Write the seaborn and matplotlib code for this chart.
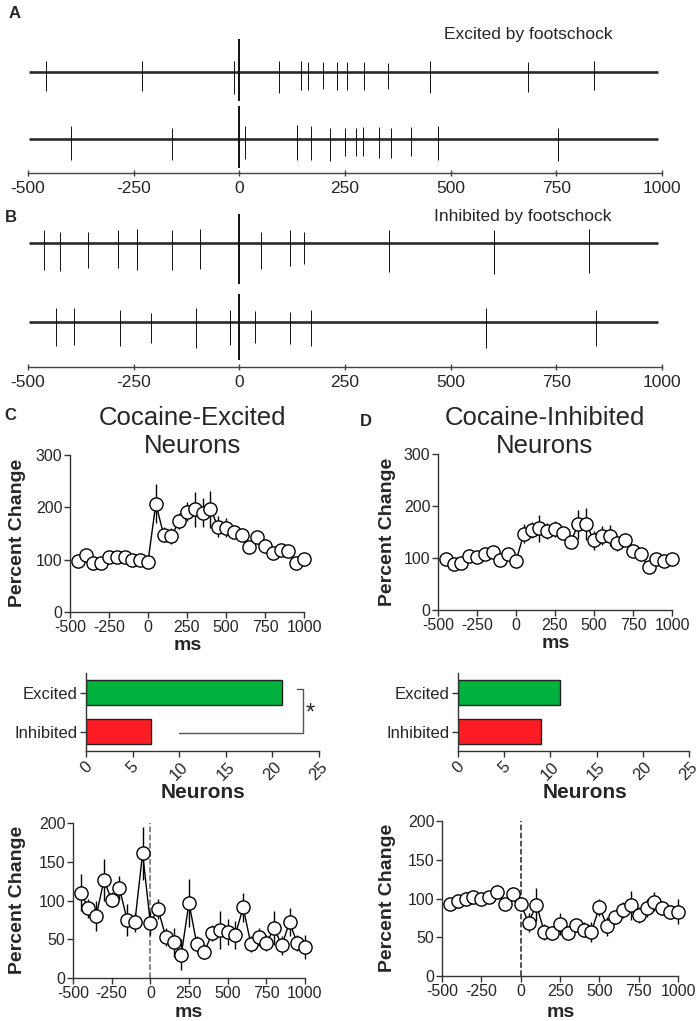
import numpy as np
import matplotlib.pyplot as plt
import seaborn as sns
import pandas as pd

# ---------------- data ----------------
# example single-unit traces: spike times (ms from footshock) and spike heights above / below baseline (a.u.)
a1_times = [-457, -231, -13, 0, 94, 145, 162, 197, 231, 254, 296, 351, 452, 684, 838]
a1_up = [11, 11, 11, 33, 11, 11, 10, 10, 10, 10, 10, 9, 11, 10, 11]
a1_down = [19, 19, 22, 29, 21, 18, 18, 17, 18, 18, 18, 17, 21, 20, 18]

a2_times = [-399, -160, 0, 13, 136, 169, 215, 250, 275, 292, 330, 359, 407, 471, 753]
a2_up = [13, 11, 33, 13, 14, 13, 11, 11, 11, 12, 12, 11, 12, 13, 11]
a2_down = [21, 21, 29, 20, 21, 21, 22, 17, 17, 17, 19, 19, 17, 21, 22]

b1_times = [-462, -425, -358, -288, -242, -160, -92, 0, 51, 121, 153, 353, 602, 827]
b1_up = [13, 11, 11, 13, 14, 13, 14, 29, 11, 13, 11, 13, 13, 14]
b1_down = [27, 28, 25, 25, 27, 27, 26, 41, 26, 23, 21, 29, 31, 30]

b2_times = [-433, -392, -282, -210, -103, -23, 0, 36, 121, 169, 584, 844]
b2_up = [14, 14, 12, 9, 14, 12, 28, 11, 10, 12, 14, 12]
b2_down = [24, 23, 24, 21, 26, 23, 38, 21, 22, 24, 26, 24]

trace_start, trace_end = -497, 990

# peri-stimulus bins (ms)
bins = [-450, -400, -350, -300, -250, -200, -150, -100, -50, 0,
        50, 100, 150, 200, 250, 300, 350, 400, 450, 500,
        550, 600, 650, 700, 750, 800, 850, 900, 950, 1000]

# C top: cocaine-excited neurons, percent change
c_top = [97, 108, 94, 93, 105, 106, 106, 100, 99, 96,
         207, 148, 145, 174, 192, 196, 190, 196, 163, 161,
         153, 148, 124, 143, 126, 112, 118, 116, 93, 101]
c_top_err = [8, 8, 8, 8, 8, 8, 8, 8, 8, 8,
             37, 14, 15, 15, 18, 33, 28, 35, 20, 18,
             10, 10, 10, 12, 10, 10, 10, 10, 10, 10]

# D top: cocaine-inhibited neurons, percent change
d_top = [99, 88, 90, 104, 102, 107, 112, 97, 108, 94,
         147, 154, 157, 152, 156, 149, 131, 165, 165, 134,
         143, 143, 128, 134, 114, 108, 82, 99, 94, 99]
d_top_err = [8, 8, 8, 8, 8, 8, 8, 8, 8, 8,
             18, 15, 26, 15, 15, 12, 10, 28, 31, 18,
             18, 20, 15, 10, 8, 8, 8, 8, 8, 8]

# neuron counts
bar_labels = ["Excited", "Inhibited"]
c_counts = [21, 7]
d_counts = [11, 9]

# C bottom
c_bot = [110, 90, 80, 126, 101, 116, 75, 72, 161, 71,
         89, 53, 46, 30, 97, 44, 34, 58, 62, 59,
         56, 91, 44, 53, 45, 64, 42, 72, 45, 40]
c_bot_err = [24, 12, 19, 27, 10, 15, 21, 12, 34, 15,
             13, 12, 19, 20, 31, 10, 10, 10, 24, 17,
             18, 19, 10, 12, 10, 22, 12, 18, 10, 16]

# D bottom
d_bot = [93, 97, 100, 102, 100, 102, 109, 93, 106, 93,
         69, 92, 57, 56, 67, 56, 66, 60, 57, 89,
         64, 76, 85, 91, 79, 88, 96, 88, 83, 83]
d_bot_err = [8, 9, 9, 9, 8, 8, 9, 8, 9, 9,
             12, 21, 10, 9, 14, 9, 9, 10, 13, 11,
             12, 9, 10, 19, 10, 12, 12, 9, 9, 16]

# ---------------- figure ----------------
sns.set_theme(style="ticks")
plt.rcParams['font.family'] = ['Liberation Sans', 'DejaVu Sans']
plt.rcParams['axes.linewidth'] = 1.0
plt.rcParams['axes.unicode_minus'] = False

W, H = 700, 1021
fig = plt.figure(figsize=(W / 100, H / 100), dpi=100)
AXC = '#333333'


def box(x0, y0, x1, y1):
    return [x0 / W, 1 - y1 / H, (x1 - x0) / W, (y1 - y0) / H]


def ftext(x, y, s, **kw):
    fig.text(x / W, 1 - y / H, s, **kw)


def trace(baseline, times, up, down):
    ax = fig.add_axes(box(28, baseline - 50, 662, baseline + 50))
    ax.hlines(0, trace_start, trace_end, color='#2a2a2a', lw=1.9)
    lw = [1.4 if t == 0 else 0.7 for t in times]
    ax.vlines(times, [-d for d in down], up, color='#111111', lw=lw)
    ax.set_xlim(-500, 1000)
    ax.set_ylim(-50, 50)
    ax.axis('off')


def time_axis(y):
    ax = fig.add_axes(box(28, y - 20, 662, y))
    ax.set_xlim(-500, 1000)
    ax.set_xticks([-500, -250, 0, 250, 500, 750, 1000])
    ax.set_yticks([])
    for s in ['top', 'right', 'left']:
        ax.spines[s].set_visible(False)
    ax.spines['bottom'].set_color('#444444')
    ax.patch.set_alpha(0)
    ax.tick_params(axis='x', direction='inout', length=5, width=1, color='#444444',
                   labelsize=12.5, pad=3)


def psth(rect, vals, errs, ymax, yticks, dash_color=None):
    ax = fig.add_axes(rect)
    df = pd.DataFrame({'ms': bins, 'pct': vals})
    if dash_color:
        ax.axvline(0, ls='--', color=dash_color, lw=1.1, zorder=1)
    ax.errorbar(bins, vals, yerr=errs, fmt='none', ecolor='black', elinewidth=1,
                capsize=0, zorder=2, clip_on=False)
    sns.lineplot(data=df, x='ms', y='pct', ax=ax, color='black', lw=1, marker='o',
                 markersize=9.5, markerfacecolor='white', markeredgecolor='black',
                 markeredgewidth=1, zorder=3)
    for ln in ax.lines:
        ln.set_clip_on(False)
    ax.set_xlim(-500, 1000)
    ax.set_ylim(0, ymax)
    ax.set_xticks([-500, -250, 0, 250, 500, 750, 1000])
    ax.set_yticks(yticks)
    ax.set_xlabel('')
    ax.set_ylabel('')
    sns.despine(ax=ax)
    for s in ['left', 'bottom']:
        ax.spines[s].set_color(AXC)
    ax.tick_params(length=4, width=1, color=AXC, labelsize=11.5, pad=1.5)
    return ax


def bars(rect, counts, star=False):
    ax = fig.add_axes(rect)
    df = pd.DataFrame({'group': bar_labels, 'n': counts})
    sns.barplot(data=df, x='n', y='group', hue='group', orient='h', ax=ax,
                palette=['#00b140', '#ff1c24'], saturation=1, width=0.65,
                edgecolor='#222222', linewidth=1, legend=False)
    ax.set_xlim(0, 25)
    ax.set_ylim(1.5, -0.5)
    ax.set_xticks([0, 5, 10, 15, 20, 25])
    ax.set_xlabel('')
    ax.set_ylabel('')
    sns.despine(ax=ax)
    for s in ['left', 'bottom']:
        ax.spines[s].set_color(AXC)
    ax.tick_params(length=4, width=1, color=AXC, labelsize=12, pad=2)
    for lab in ax.get_xticklabels():
        lab.set_rotation(45)
        lab.set_ha('center')
    if star:
        ax.plot([10, 23.25, 23.25, 22.6], [1.05, 1.05, -0.09, -0.09], color='#555555',
                lw=1, clip_on=False)
        ax.text(24.1, 0.53, '*', fontsize=17, ha='center', va='center', clip_on=False)
    return ax


# panel A / B traces
ftext(9, 14, 'A', fontsize=12, fontweight='bold', ha='left', va='center')
ftext(528, 35, 'Excited by footschock', fontsize=12.5, ha='center', va='center')
trace(72, a1_times, a1_up, a1_down)
trace(139, a2_times, a2_up, a2_down)
time_axis(173)

ftext(5, 217, 'B', fontsize=12, fontweight='bold', ha='left', va='center')
ftext(523, 217, 'Inhibited by footschock', fontsize=12.5, ha='center', va='center')
trace(243, b1_times, b1_up, b1_down)
trace(322, b2_times, b2_up, b2_down)
time_axis(367)

# panel C / D
ftext(4, 416, 'C', fontsize=12, fontweight='bold', ha='left', va='center')
ftext(360, 421, 'D', fontsize=12, fontweight='bold', ha='left', va='center')
ftext(193, 432, 'Cocaine-Excited\nNeurons', fontsize=18.5, ha='center', va='center',
      linespacing=1.2)
ftext(545, 432, 'Cocaine-Inhibited\nNeurons', fontsize=18.5, ha='center', va='center',
      linespacing=1.2)

psth(box(70, 455, 304, 612), c_top, c_top_err, 300, [0, 100, 200, 300])
psth(box(438, 454, 672, 610), d_top, d_top_err, 300, [0, 100, 200, 300])

bars(box(86, 673, 319, 751), c_counts, star=True)
bars(box(458, 673, 689, 751), d_counts)

psth(box(73, 823, 305, 978), c_bot, c_bot_err, 200, [0, 50, 100, 150, 200],
     dash_color='#666666')
psth(box(442, 821, 678, 976), d_bot, d_bot_err, 200, [0, 50, 100, 150, 200],
     dash_color='#222222')

# axis titles
for x, y in [(18, 533), (387, 532), (18, 900), (387, 898)]:
    ftext(x, y, 'Percent Change', fontsize=14, fontweight='bold', rotation=90,
          ha='center', va='center')
for x, y in [(188, 645), (556, 643), (189, 1012), (561, 1012)]:
    ftext(x, y, 'ms', fontsize=14, fontweight='bold', ha='center', va='center')
for x in [203, 585]:
    ftext(x, 792, 'Neurons', fontsize=15, fontweight='bold', ha='center', va='center')

fig.savefig('out.png', dpi=100)
